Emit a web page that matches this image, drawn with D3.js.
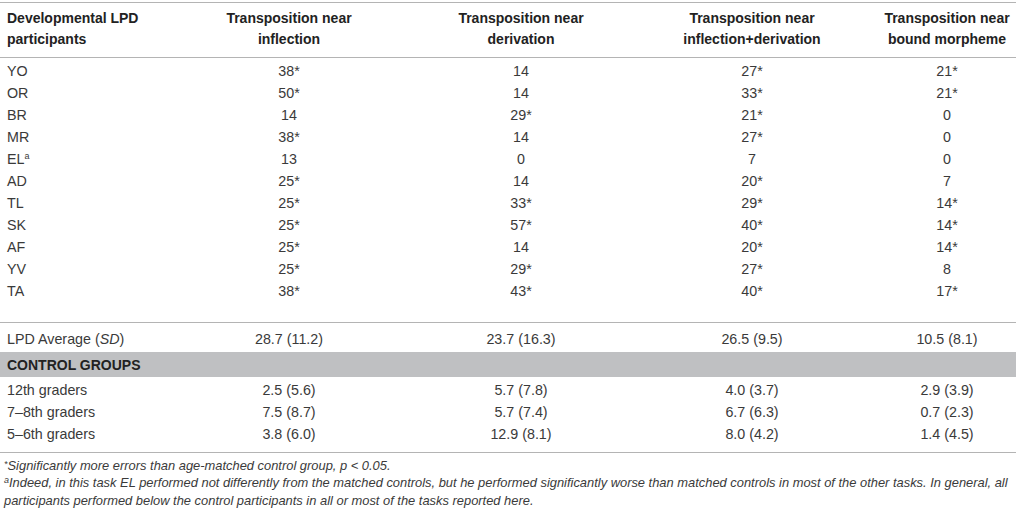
<!DOCTYPE html>
<html>
<head>
<meta charset="utf-8">
<script src="https://cdn.jsdelivr.net/npm/d3@7"></script>
<style>
  html, body { margin: 0; padding: 0; background: #fff; }
  svg text { font-family: "Liberation Sans", Arial, sans-serif; }
</style>
</head>
<body>
<div id="container"></div>
<script>
const [svgW, svgH] = [1016, 512];

// table content
const headers = [
    ['Developmental LPD', 'participants'],
    ['Transposition near', 'inflection'],
    ['Transposition near', 'derivation'],
    ['Transposition near', 'inflection+derivation'],
    ['Transposition near', 'bound morpheme']
];
const participants = ['YO', 'OR', 'BR', 'MR', 'EL', 'AD', 'TL', 'SK', 'AF', 'YV', 'TA'];
const inflection = [38, 50, 14, 38, 13, 25, 25, 25, 25, 25, 38];
const inflectionSig = [1, 1, 0, 1, 0, 1, 1, 1, 1, 1, 1];
const derivation = [14, 14, 29, 14, 0, 14, 33, 57, 14, 29, 43];
const derivationSig = [0, 0, 1, 0, 0, 0, 1, 1, 0, 1, 1];
const inflDeriv = [27, 33, 21, 27, 7, 20, 29, 40, 20, 27, 40];
const inflDerivSig = [1, 1, 1, 1, 0, 1, 1, 1, 1, 1, 1];
const bound = [21, 21, 0, 0, 0, 7, 14, 14, 14, 8, 17];
const boundSig = [1, 1, 0, 0, 0, 0, 1, 1, 1, 0, 1];

const lpdMean = [28.7, 23.7, 26.5, 10.5];
const lpdSD = [11.2, 16.3, 9.5, 8.1];

const controlGroups = ['12th graders', '7\u20138th graders', '5\u20136th graders'];
const controlMean = [[2.5, 5.7, 4.0, 2.9], [7.5, 5.7, 6.7, 0.7], [3.8, 12.9, 8.0, 1.4]];
const controlSD = [[5.6, 7.8, 3.7, 3.9], [8.7, 7.4, 6.3, 2.3], [6.0, 8.1, 4.2, 4.5]];

const footnotes = [
    'Significantly more errors than age-matched control group, p < 0.05.',
    'Indeed, in this task EL performed not differently from the matched controls, but he performed significantly worse than matched controls in most of the other tasks. In general, all',
    'participants performed below the control participants in all or most of the tasks reported here.'
];

const colKeys = ['infl', 'deriv', 'both', 'bound'];
const textColor = '#3a3a3a';
const ruleColor = '#b4b4b4';
const bodySize = 14.3;

const svg = d3.select('#container').append('svg')
    .attr('width', svgW).attr('height', svgH);

const x = d3.scaleOrdinal().domain(colKeys).range([289, 521, 752, 947]);
const y = d3.scalePoint().domain(participants).range([76, 296]);
const yCtrl = d3.scalePoint().domain(controlGroups).range([395, 439]);

const fmt = d3.format('.1f');

function rule(yy) {
    svg.append('line').attr('x1', 0).attr('x2', svgW)
        .attr('y1', yy).attr('y2', yy)
        .attr('stroke', ruleColor).attr('stroke-width', 1.2);
}

rule(2.5);
rule(57.5);
rule(322.5);
rule(452.5);

// header
const head = svg.append('g').attr('font-weight', 'bold').attr('font-size', 14).attr('fill', '#222');
headers.forEach((lines, i) => {
    lines.forEach((t, j) => {
        head.append('text')
            .attr('x', i === 0 ? 7 : x(colKeys[i - 1]))
            .attr('y', 23 + j * 21)
            .attr('text-anchor', i === 0 ? 'start' : 'middle')
            .text(t);
    });
});

// participant rows
const body = svg.append('g').attr('font-size', bodySize).attr('fill', textColor);
const series = [
    [inflection, inflectionSig],
    [derivation, derivationSig],
    [inflDeriv, inflDerivSig],
    [bound, boundSig]
];

participants.forEach((p, r) => {
    const label = body.append('text').attr('x', 7).attr('y', y(p)).text(p);
    if (p === 'EL') {
        label.append('tspan').attr('font-size', 9).attr('dy', -5).text('a');
    }
    series.forEach(([vals, sig], c) => {
        body.append('text')
            .attr('x', x(colKeys[c])).attr('y', y(p))
            .attr('text-anchor', 'middle')
            .text(vals[r] + (sig[r] ? '*' : ''));
    });
});

// average row
const avgY = 344;
const avgLabel = body.append('text').attr('x', 7).attr('y', avgY);
avgLabel.append('tspan').text('LPD Average (');
avgLabel.append('tspan').attr('font-style', 'italic').text('SD');
avgLabel.append('tspan').text(')');
lpdMean.forEach((m, c) => {
    body.append('text').attr('x', x(colKeys[c])).attr('y', avgY)
        .attr('text-anchor', 'middle')
        .text(fmt(m) + ' (' + fmt(lpdSD[c]) + ')');
});

// control groups band
svg.append('rect').attr('x', 0).attr('y', 352).attr('width', svgW).attr('height', 25)
    .attr('fill', '#bfc0c2');
svg.append('text').attr('x', 7).attr('y', 370)
    .attr('font-size', 14).attr('font-weight', 'bold').attr('fill', '#222')
    .text('CONTROL GROUPS');

controlGroups.forEach((g, r) => {
    body.append('text').attr('x', 7).attr('y', yCtrl(g)).text(g);
    controlMean[r].forEach((m, c) => {
        body.append('text').attr('x', x(colKeys[c])).attr('y', yCtrl(g))
            .attr('text-anchor', 'middle')
            .text(fmt(m) + ' (' + fmt(controlSD[r][c]) + ')');
    });
});

// footnotes
const foot = svg.append('g').attr('font-size', 12.9).attr('font-style', 'italic').attr('fill', textColor);
const f1 = foot.append('text').attr('x', 4).attr('y', 470);
f1.append('tspan').attr('font-size', 9).attr('dy', -3).text('*');
f1.append('tspan').attr('dy', 3).text(footnotes[0]);
const f2 = foot.append('text').attr('x', 4).attr('y', 487);
f2.append('tspan').attr('font-size', 9).attr('dy', -4).text('a');
f2.append('tspan').attr('dy', 4).text(footnotes[1]);
foot.append('text').attr('x', 4).attr('y', 505).text(footnotes[2]);
</script>
</body>
</html>
